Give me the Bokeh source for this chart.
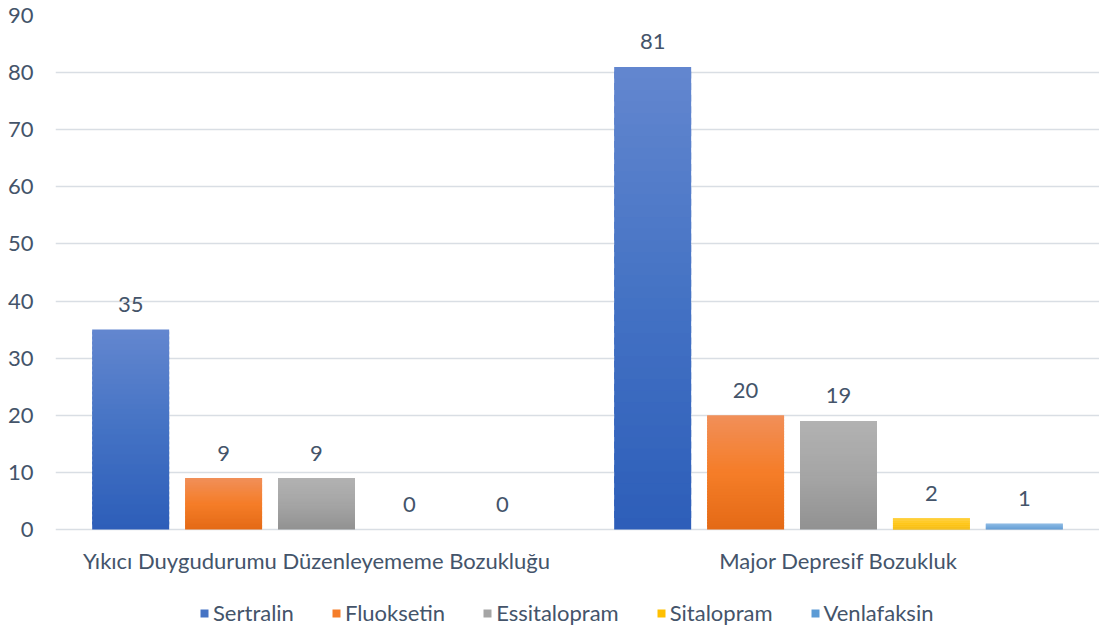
from bokeh.plotting import figure
from bokeh.models import (ColumnDataSource, Range1d, FixedTicker, Legend, LegendItem)
from bokeh.core.properties import value
from bokeh.embed import file_html
from bokeh.resources import INLINE

# ---- data ----
categories = ["Yıkıcı Duygudurumu Düzenleyememe Bozukluğu", "Major Depresif Bozukluk"]
drugs = ["Sertralin", "Fluoksetin", "Essitalopram", "Sitalopram", "Venlafaksin"]
sertralin = [35, 81]
fluoksetin = [9, 20]
essitalopram = [9, 19]
sitalopram = [0, 2]
venlafaksin = [0, 1]
series = [sertralin, fluoksetin, essitalopram, sitalopram, venlafaksin]
y_ticks = [0, 10, 20, 30, 40, 50, 60, 70, 80, 90]

# ---- style ----
FONT = "Lato"
TXT = "#44546A"
FS = "22px"
grad = [
    [(99, 135, 207), (68, 114, 196), (45, 94, 185)],
    [(241, 143, 89), (245, 125, 40), (228, 106, 22)],
    [(178, 178, 178), (165, 165, 165), (146, 146, 146)],
    [(255, 204, 45), (255, 192, 0), (242, 182, 0)],
    [(120, 172, 222), (91, 155, 213), (72, 137, 202)],
]
spacing = 0.178
bar_w = 0.1475
NSL = 40
PLOT_PX = 514      # pixels from 0 to 90
BELOW_PX = 98      # frame pixels below the zero line (labels + legend area)
y_max = 90
y_min = -BELOW_PX * y_max / PLOT_PX


def interp(stops, t):
    top, mid, bot = stops
    if t < 0.5:
        a, b, f = bot, mid, t / 0.5
    else:
        a, b, f = mid, top, (t - 0.5) / 0.5
    c = tuple(int(round(a[k] + (b[k] - a[k]) * f)) for k in range(3))
    return "#%02x%02x%02x" % c


p = figure(frame_width=1044, frame_height=PLOT_PX + BELOW_PX, output_backend="svg",
           toolbar_location=None, x_axis_location=None,
           x_range=Range1d(-0.5, 1.5), y_range=Range1d(y_min, y_max),
           min_border_left=55, min_border_right=0, min_border_top=15,
           min_border_bottom=0)
p.outline_line_color = None
p.background_fill_color = "white"
p.border_fill_color = "white"

legend_items = []
for si, (name, vals) in enumerate(zip(drugs, series)):
    off = (si - 2) * spacing
    L, R, B, T, C = [], [], [], [], []
    for ci, v in enumerate(vals):
        x = ci + off
        for k in range(NSL):
            b = v * k / NSL
            t = v * (k + 1) / NSL
            L.append(x - bar_w / 2)
            R.append(x + bar_w / 2)
            B.append(b)
            T.append(t + (v / NSL * 0.6 if k < NSL - 1 else 0))
            C.append(interp(grad[si], (k + 0.5) / NSL))
    src = ColumnDataSource(dict(left=L, right=R, bottom=B, top=T, color=C))
    r = p.quad(left="left", right="right", bottom="bottom", top="top", source=src,
               fill_color="color", line_color=None)
    lsrc = ColumnDataSource(dict(x=[ci + off for ci in range(len(vals))], y=vals,
                                 t=[str(v) for v in vals]))
    p.text(x="x", y="y", text="t", source=lsrc, text_align="center",
           text_baseline="middle", y_offset=-25, text_font=value(FONT),
           text_font_size=FS, text_color=TXT)
    legend_items.append(LegendItem(label=name, renderers=[r], index=NSL // 2))

# category labels under the groups
csrc = ColumnDataSource(dict(x=list(range(len(categories))), y=[0] * len(categories),
                             t=categories))
p.text(x="x", y="y", text="t", source=csrc, text_align="center",
       text_baseline="middle", y_offset=31, text_font=value(FONT),
       text_font_size=FS, text_color=TXT)

p.yaxis.ticker = FixedTicker(ticks=y_ticks)
p.yaxis.axis_line_color = None
p.yaxis.major_tick_line_color = None
p.yaxis.minor_tick_line_color = None
p.yaxis.major_tick_out = 0
p.yaxis.major_tick_in = 0
p.yaxis.major_label_text_font = FONT
p.yaxis.major_label_text_font_size = FS
p.yaxis.major_label_text_color = TXT
p.yaxis.major_label_standoff = 22

p.xgrid.grid_line_color = None
p.ygrid.ticker = FixedTicker(ticks=y_ticks)
p.ygrid.grid_line_color = "#D9DEE4"
p.ygrid.grid_line_width = 1.5

legend = Legend(items=legend_items, orientation="horizontal", location=(144, 1),
                glyph_width=10, glyph_height=10, label_standoff=4, spacing=37,
                label_text_font=FONT, label_text_font_size=FS, label_text_color=TXT,
                border_line_color=None, background_fill_alpha=0, padding=0, margin=0)
p.add_layout(legend, "center")

html = file_html(p, INLINE)
html = html.replace("<head>",
                    "<head><style>html,body{margin:0;padding:0;overflow:hidden}</style>", 1)
open("out.html", "w").write(html)
